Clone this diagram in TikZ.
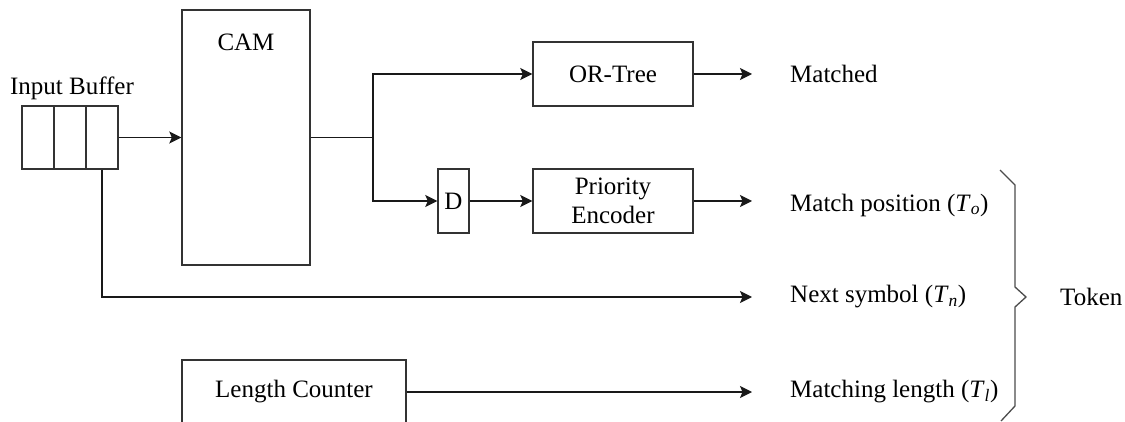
\documentclass[tikz,border=0pt]{standalone}
\usepackage{fontspec}
\setmainfont{Liberation Serif}
\usetikzlibrary{arrows.meta,positioning,calc}
\tikzset{
  blk/.style={draw=black!80, line width=1.4pt, inner sep=0pt, align=center},
  lbl/.style={inner sep=0pt, anchor=west},
  conn/.style={line width=1.4pt, draw=black!90},
  arr/.style={conn, -{Stealth[length=12pt,width=12pt,inset=2.5pt]}}
}
\begin{document}
\begin{tikzpicture}[x=1pt,y=-1pt,font=\fontsize{25}{29}\selectfont]
\path[use as bounding box, clip] (0,0) rectangle (1125,422);
% input buffer
\node[blk, minimum width=32pt, minimum height=63pt] (c1) at (38,137.5) {};
\node[blk, minimum width=32pt, minimum height=63pt] (c2) at (70,137.5) {};
\node[blk, minimum width=32pt, minimum height=63pt] (c3) at (102,137.5) {};
\node[inner sep=0pt] (ib) at (72,88) {Input Buffer};
% CAM
\node[blk, minimum width=128pt, minimum height=255pt] (cam) at (246,137.5) {};
\node[inner sep=0pt] (camlbl) at (246,42) {CAM};
% blocks
\node[blk, minimum width=160pt, minimum height=64pt] (ort) at (613,74) {OR-Tree};
\node[blk, minimum width=31pt, minimum height=64pt] (d) at (453.5,201) {D};
\node[blk, minimum width=160pt, minimum height=64pt] (pe) at (613,201) {Priority\\Encoder};
\node[blk, minimum width=224pt, minimum height=64pt] (lc) at (294,392) {Length Counter};
% output labels
\node[lbl] (matched) at (790,74) {Matched};
\node[lbl] (mpos) at (790,205) {Match position (\textit{T}\textsubscript{\textit{o}})};
\node[lbl] (nsym) at (790,297) {Next symbol (\textit{T}\textsubscript{\textit{n}})};
\node[lbl] (mlen) at (790,392) {Matching length (\textit{T}\textsubscript{\textit{l}})};
\node[lbl] (tok) at (1060,297) {Token};
% coordinates
\coordinate (j) at (373,137.5);
\coordinate (e1) at (752,74);
\coordinate (e2) at (752,201);
\coordinate (e3) at (752,297);
\coordinate (e4) at (752,392);
% connectors
\draw[arr] (c3.east) -- (cam.west);
\draw[conn] (cam.east) -- (j);
\draw[arr] (j) |- (ort.west);
\draw[arr] (j) |- (d.west);
\draw[arr] (d.east) -- (pe.west);
\draw[arr] (ort.east) -- (e1);
\draw[arr] (pe.east) -- (e2);
\draw[arr] (c3.south) |- (e3);
\draw[arr] (lc.east) -- (e4);
% brace
\draw[line width=1.3pt, draw=black!70] (1000,170) -- (1015,185) -- (1015,287) -- (1026,297) -- (1015,307) -- (1015,406) -- (1001,421);
\end{tikzpicture}
\end{document}
